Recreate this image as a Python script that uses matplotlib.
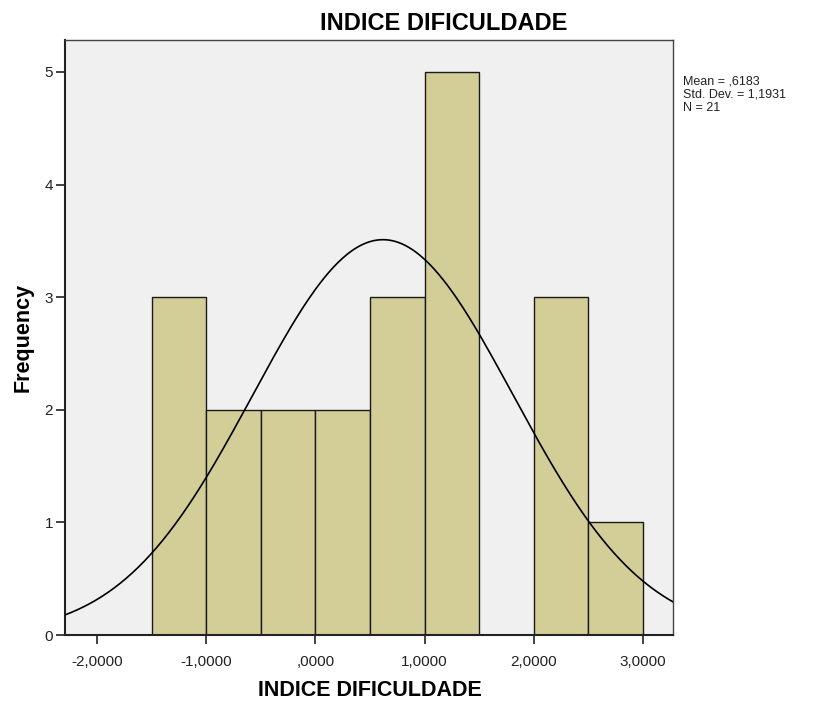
import numpy as np
import matplotlib
matplotlib.use("Agg")
import matplotlib.pyplot as plt

plt.rcParams['font.family'] = ['Liberation Sans', 'DejaVu Sans']

# Histogram of the difficulty index (bin width 0,5)
bin_edges = [-1.5, -1.0, -0.5, 0.0, 0.5, 1.0, 1.5, 2.0, 2.5, 3.0]
counts = [3, 2, 2, 2, 3, 5, 0, 3, 1]
mean = 0.6183
std_dev = 1.1931
n_obs = 21

x_ticks = [-2.0, -1.0, 0.0, 1.0, 2.0, 3.0]
x_tick_labels = ["-2,0000", "-1,0000", ",0000", "1,0000", "2,0000", "3,0000"]
y_ticks = [0, 1, 2, 3, 4, 5]

fig = plt.figure(figsize=(8.14, 7.02), dpi=100)
ax = fig.add_axes([0.0799, 0.0954, 0.7469, 0.8476])
ax.set_facecolor('#F0F0F0')

lefts = bin_edges[:-1]
widths = np.diff(bin_edges)
ax.bar(lefts, counts, width=widths, align='edge', color='#D3CE97',
       edgecolor='#1a1a1a', linewidth=1.0, zorder=2)

# Fitted normal curve scaled to counts
xmin, xmax = -2.293, 3.275
xs = np.linspace(xmin, xmax, 400)
bw = widths[0]
ys = n_obs * bw / (std_dev * np.sqrt(2 * np.pi)) * np.exp(-0.5 * ((xs - mean) / std_dev) ** 2)
ax.plot(xs, ys, color='black', linewidth=1.2, zorder=3)

ax.set_xlim(xmin, xmax)
ax.set_ylim(0, 5.284)
ax.set_xticks(x_ticks)
ax.set_xticklabels(x_tick_labels)
ax.set_yticks(y_ticks)
ax.tick_params(axis='both', direction='out', length=6.5, width=1.3,
               labelsize=11, color='#333333', labelcolor='#222222')
ax.tick_params(axis='x', pad=8)
ax.tick_params(axis='y', pad=2)
for s in ax.spines.values():
    s.set_color('#444444')
    s.set_linewidth(1.0)
ax.spines['left'].set_linewidth(1.5)
ax.spines['bottom'].set_linewidth(1.5)
ax.spines['left'].set_color('#222222')
ax.spines['bottom'].set_color('#222222')

fig.text(444 / 814, 1 - 23 / 702, "INDICE DIFICULDADE", fontsize=17,
         fontweight='bold', ha='center', va='center')
fig.text(370 / 814, 1 - 690 / 702, "INDICE DIFICULDADE", fontsize=15.5,
         fontweight='bold', ha='center', va='center')
ax.set_ylabel("Frequency", fontsize=15.5, fontweight='bold', labelpad=8)

stats = "Mean = ,6183\nStd. Dev. = 1,1931\nN = 21"
fig.text(683 / 814, 1 - 75 / 702, stats, fontsize=9, va='top', ha='left',
         linespacing=1.15, color='#222222')

fig.savefig("out.png", dpi=100)
